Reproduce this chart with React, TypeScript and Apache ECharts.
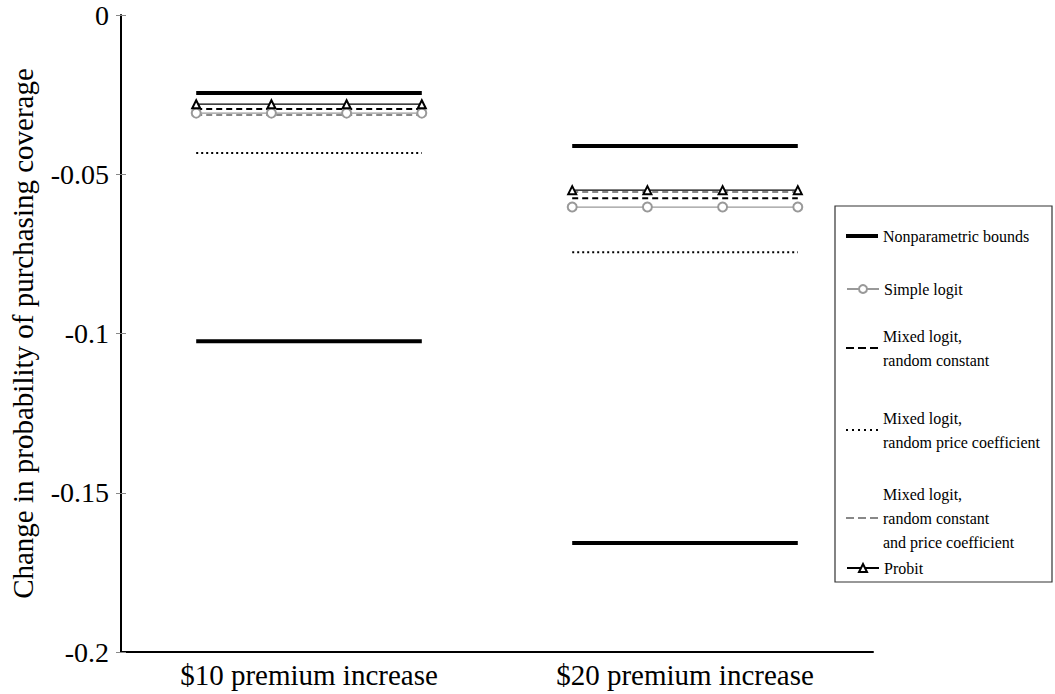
import React, { useEffect, useRef } from "react";
import * as echarts from "echarts";

// Categories and per-category estimates (change in probability of purchasing coverage)
const categories = ["$10 premium increase", "$20 premium increase"];
const yTicks = [0, -0.05, -0.1, -0.15, -0.2];

const boundsUpper = [-0.0245, -0.0411];
const boundsLower = [-0.1024, -0.1658];
const simpleLogit = [-0.0308, -0.0603];
const mixedConstant = [-0.0295, -0.0575];
const mixedPrice = [-0.0433, -0.0745];
const mixedBoth = [-0.0314, -0.0556];
const probit = [-0.028, -0.055];

// Horizontal positions (inside each category band) where the line is sampled / marked
const markerOffsets = [0.2, 0.4, 0.6, 0.8];

const NAMES = {
  bounds: "Nonparametric bounds",
  simple: "Simple logit",
  mixedConst: "Mixed logit, random constant",
  mixedPrice: "Mixed logit, random price coefficient",
  mixedBoth: "Mixed logit, random constant and price coefficient",
  probit: "Probit",
};

const legendLabels: Record<string, string> = {
  [NAMES.bounds]: "Nonparametric bounds",
  [NAMES.simple]: "Simple logit",
  [NAMES.mixedConst]: "Mixed logit,\nrandom constant",
  [NAMES.mixedPrice]: "Mixed logit,\nrandom price coefficient",
  [NAMES.mixedBoth]: "Mixed logit,\nrandom constant\nand price coefficient",
  [NAMES.probit]: "Probit",
};

const FONT = "Liberation Serif";

function segment(values: number[], group: number) {
  return markerOffsets.map((o) => [group + o, values[group]]);
}

function seriesFor(values: number[], name: string, style: any) {
  return categories.map((_, g) => ({
    type: "line",
    name,
    data: segment(values, g),
    xAxisIndex: 1,
    yAxisIndex: 0,
    ...style,
  }));
}

// Legend glyphs for line styles without markers (filled paths, scaled to the icon box)
const dashIcon = "path://M0,0h8v2h-8zM12,0h8v2h-8zM24,0h8v2h-8z";
const dotIcon = "path://M0,0h2v2h-2zM6,0h2v2h-2zM12,0h2v2h-2zM18,0h2v2h-2zM24,0h2v2h-2zM30,0h2v2h-2z";

export default function App() {
  const ref = useRef<HTMLDivElement>(null);

  useEffect(() => {
    if (!ref.current) return;
    const chart = echarts.init(ref.current, undefined, { renderer: "svg" });

    const noSymbol = { symbol: "none", showSymbol: false };

    const series = [
      ...seriesFor(boundsUpper, NAMES.bounds, {
        ...noSymbol,
        lineStyle: { color: "#000", width: 4 },
        itemStyle: { color: "#000" },
      }),
      ...seriesFor(boundsLower, NAMES.bounds, {
        ...noSymbol,
        lineStyle: { color: "#000", width: 4 },
        itemStyle: { color: "#000" },
      }),
      ...seriesFor(mixedPrice, NAMES.mixedPrice, {
        ...noSymbol,
        lineStyle: { color: "#000", width: 2, type: [2, 3] },
        itemStyle: { color: "#000" },
      }),
      ...seriesFor(mixedBoth, NAMES.mixedBoth, {
        ...noSymbol,
        lineStyle: { color: "#888", width: 2, type: [6, 4] },
        itemStyle: { color: "#888" },
      }),
      ...seriesFor(simpleLogit, NAMES.simple, {
        symbol: "emptyCircle",
        symbolSize: 9,
        lineStyle: { color: "#999", width: 1.2 },
        itemStyle: { color: "#999", borderWidth: 1.2 },
      }),
      ...seriesFor(mixedConstant, NAMES.mixedConst, {
        ...noSymbol,
        lineStyle: { color: "#000", width: 2, type: [6, 4] },
        itemStyle: { color: "#000" },
      }),
      ...seriesFor(probit, NAMES.probit, {
        symbol: "emptyTriangle",
        symbolSize: 8,
        lineStyle: { color: "#000", width: 1.2 },
        itemStyle: { color: "#000", borderWidth: 1.2 },
      }),
    ];

    // Legend entries: name, vertical centre, icon, icon height
    const legendRows: [string, number, string, number][] = [
      [NAMES.bounds, 236, "rect", 4],
      [NAMES.simple, 289, "inherit", 10],
      [NAMES.mixedConst, 348, dashIcon, 2],
      [NAMES.mixedPrice, 430, dotIcon, 2],
      [NAMES.mixedBoth, 518, dashIcon, 2],
      [NAMES.probit, 568, "inherit", 10],
    ];
    const lineH = 24;
    const legends = legendRows.map(([name, cy, icon, h]) => {
      const lines = legendLabels[name].split("\n").length;
      return {
        data: [{ name, icon }],
        orient: "vertical",
        left: 846,
        top: cy - (lines * lineH) / 2,
        padding: 0,
        itemGap: 0,
        itemWidth: 32,
        itemHeight: h,
        selectedMode: false,
        formatter: (n: string) => legendLabels[n],
        textStyle: { fontFamily: FONT, fontSize: 16, lineHeight: lineH, color: "#000" },
      };
    });

    const yRange = {
      type: "value",
      min: yTicks[yTicks.length - 1],
      max: yTicks[0],
      interval: 0.05,
    };

    chart.setOption({
      animation: false,
      backgroundColor: "#fff",
      grid: { left: 120, right: 182, top: 15, bottom: 42 },
      xAxis: [
        {
          type: "category",
          data: categories,
          boundaryGap: true,
          position: "bottom",
          axisLine: { onZero: false, lineStyle: { color: "#000", width: 2 } },
          axisTick: { alignWithLabel: true, length: 5, lineStyle: { color: "#888" } },
          axisLabel: { fontFamily: FONT, fontSize: 29, color: "#000", margin: 8 },
          splitLine: { show: false },
        },
        { type: "value", min: 0, max: categories.length, show: false },
        {
          // inner half of the category tick marks
          type: "category",
          data: categories,
          boundaryGap: true,
          position: "bottom",
          axisLine: { show: false, onZero: false },
          axisTick: { alignWithLabel: true, inside: true, length: 5, lineStyle: { color: "#888" } },
          axisLabel: { show: false },
          splitLine: { show: false },
        },
      ],
      yAxis: [
        {
          ...yRange,
          name: "Change in probability of purchasing coverage",
          nameLocation: "middle",
          nameGap: 84,
          nameTextStyle: { fontFamily: FONT, fontSize: 29, color: "#000" },
          axisLine: { show: true, lineStyle: { color: "#000", width: 2 } },
          axisTick: { show: true, length: 5, lineStyle: { color: "#888" } },
          axisLabel: {
            fontFamily: FONT,
            fontSize: 28,
            color: "#000",
            margin: 12,
            formatter: (v: number) => String(Number(v.toFixed(2))),
          },
          splitLine: { show: false },
        },
        {
          // inner half of the value tick marks
          ...yRange,
          position: "left",
          axisLine: { show: false },
          axisTick: { show: true, inside: true, length: 5, lineStyle: { color: "#888" } },
          axisLabel: { show: false },
          splitLine: { show: false },
        },
      ],
      legend: legends,
      graphic: [
        {
          type: "rect",
          z: 3,
          shape: { x: 835, y: 206, width: 217, height: 376 },
          style: { fill: "#fff", stroke: "#333", lineWidth: 1.2 },
        },
      ],
      series,
    });

    return () => chart.dispose();
  }, []);

  return (
    <div
      ref={ref}
      style={{ position: "fixed", left: 0, top: 0, width: 1055, height: 694 }}
    />
  );
}
